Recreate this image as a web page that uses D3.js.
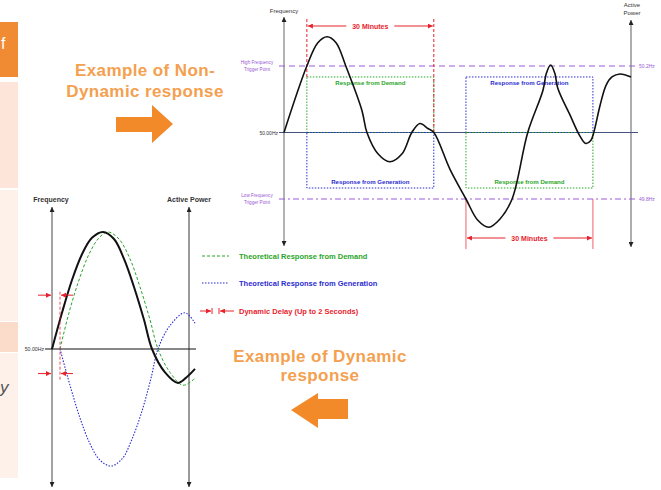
<!DOCTYPE html>
<html>
<head>
<meta charset="utf-8">
<script src="https://cdn.jsdelivr.net/npm/d3@7"></script>
<style>
  body { margin: 0; background: #fff; }
  svg { display: block; font-family: 'Liberation Sans', Arial, sans-serif; }
</style>
</head>
<body>
<div id="vis-container"></div>
<script>
// ---- Non-dynamic response (time in minutes, frequency in Hz) ----
const nonDynTime = [0, 5.4, 8.0, 10.2, 12.3, 14.6, 18.4, 19.6, 22.2, 25.0, 27.9, 30.2, 32.1, 34.0, 35.4,
    39.2, 43.0, 45.8, 48.4, 51.0, 53.9, 57.6, 61.2, 62.0, 63.0, 64.0, 64.7, 67.6, 69.9, 71.3, 72.5, 73.2,
    74.7, 76.1, 77.5, 79.4, 82.0];
const nonDynFreq = [50.0, 50.2, 50.27, 50.288, 50.27, 50.2, 50.067, 50.0, 49.936, 49.912, 49.936, 50.0, 50.027, 50.012, 50.0,
    49.89, 49.8, 49.736, 49.715, 49.739, 49.8, 50.0, 50.127, 50.178, 50.203, 50.178, 50.133, 50.052, 49.99, 49.967, 49.976, 50.0,
    50.082, 50.142, 50.167, 50.176, 50.167];

const nominalHz = 50.0;
const nominalLabel = '50.00Hz';
const triggerHz = [50.2, 49.8];
const triggerRight = ['50.2Hz', '49.8Hz'];
const triggerLeft = [['High Frequency', 'Trigger Point'], ['Low Frequency', 'Trigger Point']];

// 30 minute response windows
const windowStart = [5.4, 43.0];
const windowLength = 30;
const windowBand = 0.167; // Hz either side of nominal
const windowUpper = ['Response from Demand', 'Response from Generation'];
const windowLower = ['Response from Generation', 'Response from Demand'];
const windowLabel = '30 Minutes';

// ---- Dynamic response (time in seconds, normalised deviation) ----
const delaySeconds = 2;
const freqTime = [0, 2.5, 5, 7.5, 10, 12.75, 15.5, 18, 20.5, 23, 25, 28.25, 31.5, 34, 35.75];
const freqValue = [0, 0.31, 0.59, 0.81, 0.95, 1.0, 0.94, 0.77, 0.53, 0.25, 0, -0.2, -0.29, -0.23, -0.17];
const demandTime = [2, 4.25, 6.75, 9.25, 11.75, 14, 16.75, 19.5, 22, 24.5, 26.5, 29.5, 32.75, 35.75];
const demandValue = [0, 0.31, 0.59, 0.81, 0.95, 1.0, 0.94, 0.77, 0.53, 0.25, 0, -0.2, -0.31, -0.25];
const genTime = [2, 4.5, 7, 9.5, 12, 14.75, 17.5, 20, 22.5, 24.75, 26.5, 29.5, 33.25, 35.75];
const genValue = [0, -0.31, -0.59, -0.81, -0.95, -1.0, -0.94, -0.77, -0.53, -0.25, 0, 0.2, 0.31, 0.22];
const delayMarkerLevels = [0.46, -0.21];

const legendLabels = ['Theoretical Response from Demand', 'Theoretical Response from Generation', 'Dynamic Delay (Up to 2 Seconds)'];

const RED = '#e8222c';
const GREEN = '#2aa52a';
const BLUE = '#2b2bd0';
const PURPLE = '#9a5ad6';
const ORANGE_TXT = '#f4a04f';
const ORANGE = '#f28a2a';

const svg = d3.select('#vis-container').append('svg')
  .attr('width', 661)
  .attr('height', 490);

// Arrow markers
const defs = svg.append('defs');
function addMarker(id, color, size) {
    defs.append('marker')
      .attr('id', id)
      .attr('viewBox', '0 0 10 10')
      .attr('refX', 10)
      .attr('refY', 5)
      .attr('markerUnits', 'userSpaceOnUse')
      .attr('markerWidth', size)
      .attr('markerHeight', size)
      .attr('orient', 'auto-start-reverse')
      .append('path')
      .attr('d', 'M0,0L10,5L0,10z')
      .attr('fill', color);
}
addMarker('arr-dark', '#222', 5);
addMarker('arr-red', RED, 5);

// Slide side panels (cropped slide on the left)
const side = svg.append('g');
side.append('rect').attr('x', 0).attr('y', 22).attr('width', 18).attr('height', 55).attr('fill', '#f08a33');
side.append('rect').attr('x', 0).attr('y', 82).attr('width', 18).attr('height', 106).attr('fill', '#fde6d9');
side.append('rect').attr('x', 0).attr('y', 190).attr('width', 18).attr('height', 131).attr('fill', '#fef1ea');
side.append('rect').attr('x', 0).attr('y', 322).attr('width', 18).attr('height', 30).attr('fill', '#fbdcca');
side.append('rect').attr('x', 0).attr('y', 353).attr('width', 18).attr('height', 125).attr('fill', '#fef1ea');
side.append('text').attr('x', 1).attr('y', 49).attr('fill', '#fff').attr('font-size', 16).text('f');
side.append('text').attr('x', 0).attr('y', 393).attr('fill', '#555').attr('font-size', 17).attr('font-style', 'italic').text('y');

// ================= Non-dynamic chart =================
const xNon = d3.scaleLinear().domain([0, 82]).range([284, 631]);
const yNon = d3.scaleLinear().domain([49.8, 50.2]).range([199, 66]);
const nonChart = svg.append('g');

// axes
nonChart.append('line').attr('x1', 284).attr('x2', 284).attr('y1', 17).attr('y2', 246)
  .attr('stroke', '#666').attr('stroke-width', 1)
  .attr('marker-start', 'url(#arr-dark)').attr('marker-end', 'url(#arr-dark)');
nonChart.append('line').attr('x1', 631).attr('x2', 631).attr('y1', 20).attr('y2', 247)
  .attr('stroke', '#777').attr('stroke-width', 1.2)
  .attr('marker-start', 'url(#arr-dark)').attr('marker-end', 'url(#arr-dark)');
nonChart.append('text').attr('x', 284).attr('y', 13).attr('text-anchor', 'middle')
  .attr('font-size', 6).attr('fill', '#333').text('Frequency');
nonChart.append('text').attr('x', 632).attr('y', 7).attr('text-anchor', 'middle')
  .attr('font-size', 6).attr('fill', '#333').text('Active');
nonChart.append('text').attr('x', 632).attr('y', 15).attr('text-anchor', 'middle')
  .attr('font-size', 6).attr('fill', '#333').text('Power');

// nominal line
nonChart.append('line').attr('x1', 279).attr('x2', 638)
  .attr('y1', yNon(nominalHz)).attr('y2', yNon(nominalHz))
  .attr('stroke', '#44507f').attr('stroke-width', 1);
nonChart.append('text').attr('x', 278).attr('y', yNon(nominalHz) + 2).attr('text-anchor', 'end')
  .attr('font-size', 5).attr('fill', '#333').text(nominalLabel);

// trigger points
triggerHz.forEach((hz, i) => {
    nonChart.append('line').attr('x1', 279).attr('x2', 637)
      .attr('y1', yNon(hz)).attr('y2', yNon(hz))
      .attr('stroke', PURPLE).attr('stroke-width', 1)
      .attr('stroke-dasharray', i === 0 ? '6,4' : '6,3,2,3');
    nonChart.append('text').attr('x', 639).attr('y', yNon(hz) + 2)
      .attr('font-size', 5).attr('fill', PURPLE).text(triggerRight[i]);
    triggerLeft[i].forEach((t, j) => {
        nonChart.append('text').attr('x', 257).attr('y', yNon(hz) - 2 + j * 7)
          .attr('text-anchor', 'middle').attr('font-size', 4.6).attr('fill', PURPLE).text(t);
    });
});

// response windows
windowStart.forEach((start, i) => {
    const x0 = xNon(start);
    const x1 = xNon(start + windowLength);
    const yTop = yNon(nominalHz + windowBand);
    const yMid = yNon(nominalHz);
    const yBot = yNon(nominalHz - windowBand);
    const upperColor = i === 0 ? GREEN : BLUE;
    const lowerColor = i === 0 ? BLUE : GREEN;

    nonChart.append('rect').attr('x', x0).attr('y', yTop).attr('width', x1 - x0).attr('height', yMid - yTop)
      .attr('fill', 'none').attr('stroke', upperColor).attr('stroke-width', 1).attr('stroke-dasharray', '1.5,1.5');
    nonChart.append('rect').attr('x', x0).attr('y', yMid).attr('width', x1 - x0).attr('height', yBot - yMid)
      .attr('fill', 'none').attr('stroke', lowerColor).attr('stroke-width', 1).attr('stroke-dasharray', '1.5,1.5');
    nonChart.append('text').attr('x', (x0 + x1) / 2).attr('y', yTop + 8).attr('text-anchor', 'middle')
      .attr('font-size', 6.1).attr('font-weight', 'bold').attr('fill', upperColor).text(windowUpper[i]);
    nonChart.append('text').attr('x', (x0 + x1) / 2).attr('y', yBot - 4).attr('text-anchor', 'middle')
      .attr('font-size', 6.1).attr('font-weight', 'bold').attr('fill', lowerColor).text(windowLower[i]);

    // 30 minute span marker: above for the first window, below for the second
    const cx = (x0 + x1) / 2;
    let ya;
    if (i === 0) {
        ya = 26;
        nonChart.append('line').attr('x1', x0).attr('x2', x0).attr('y1', 19).attr('y2', yTop)
          .attr('stroke', RED).attr('stroke-dasharray', '3,2');
        nonChart.append('line').attr('x1', x1).attr('x2', x1).attr('y1', 19).attr('y2', yMid)
          .attr('stroke', RED).attr('stroke-dasharray', '3,2');
    } else {
        ya = 238;
        [x0, x1].forEach((x) => {
            nonChart.append('line').attr('x1', x).attr('x2', x).attr('y1', yNon(triggerHz[1])).attr('y2', 249)
              .attr('stroke', '#f0606c').attr('stroke-width', 1);
        });
    }
    nonChart.append('line').attr('x1', cx - 24).attr('x2', x0 + 1).attr('y1', ya).attr('y2', ya)
      .attr('stroke', RED).attr('stroke-width', 1.2).attr('marker-end', 'url(#arr-red)');
    nonChart.append('line').attr('x1', cx + 24).attr('x2', x1 - 1).attr('y1', ya).attr('y2', ya)
      .attr('stroke', RED).attr('stroke-width', 1.2).attr('marker-end', 'url(#arr-red)');
    nonChart.append('text').attr('x', cx).attr('y', ya + 2.5).attr('text-anchor', 'middle')
      .attr('font-size', 7).attr('font-weight', 'bold').attr('fill', RED).text(windowLabel);
});

// frequency trace
const nonDynData = nonDynTime.map((t, i) => ({ t, f: nonDynFreq[i] }));
nonChart.append('path')
  .datum(nonDynData)
  .attr('fill', 'none')
  .attr('stroke', '#111')
  .attr('stroke-width', 1.6)
  .attr('d', d3.line().x((d) => xNon(d.t)).y((d) => yNon(d.f)).curve(d3.curveCatmullRom.alpha(0.5)));

// ================= Dynamic chart =================
const xDyn = d3.scaleLinear().domain([0, 34.25]).range([52, 189]);
const yDyn = d3.scaleLinear().domain([-1, 1]).range([466, 232]);
const dyn = svg.append('g');

dyn.append('line').attr('x1', 52).attr('x2', 52).attr('y1', 207).attr('y2', 487)
  .attr('stroke', '#444').attr('stroke-width', 1)
  .attr('marker-start', 'url(#arr-dark)').attr('marker-end', 'url(#arr-dark)');
dyn.append('line').attr('x1', 189).attr('x2', 189).attr('y1', 207).attr('y2', 487)
  .attr('stroke', '#9a9a9a').attr('stroke-width', 2)
  .attr('marker-start', 'url(#arr-dark)').attr('marker-end', 'url(#arr-dark)');
dyn.append('text').attr('x', 51).attr('y', 202).attr('text-anchor', 'middle')
  .attr('font-size', 7).attr('font-weight', 'bold').attr('fill', '#333').text('Frequency');
dyn.append('text').attr('x', 189).attr('y', 202).attr('text-anchor', 'middle')
  .attr('font-size', 7).attr('font-weight', 'bold').attr('fill', '#333').text('Active Power');

dyn.append('line').attr('x1', 45).attr('x2', 196).attr('y1', yDyn(0)).attr('y2', yDyn(0))
  .attr('stroke', '#111').attr('stroke-width', 1);
dyn.append('text').attr('x', 44).attr('y', yDyn(0) + 2).attr('text-anchor', 'end')
  .attr('font-size', 5.2).attr('fill', '#333').text(nominalLabel);

const lineDyn = d3.line().x((d) => xDyn(d.t)).y((d) => yDyn(d.v)).curve(d3.curveCatmullRom.alpha(0.5));
const series = [
    { t: genTime, v: genValue, color: BLUE, width: 1.1, dash: '1.5,1.5' },
    { t: demandTime, v: demandValue, color: GREEN, width: 1, dash: '3,2' },
    { t: freqTime, v: freqValue, color: '#111', width: 2, dash: null },
];
series.forEach((s) => {
    dyn.append('path')
      .datum(s.t.map((t, i) => ({ t, v: s.v[i] })))
      .attr('fill', 'none')
      .attr('stroke', s.color)
      .attr('stroke-width', s.width)
      .attr('stroke-dasharray', s.dash)
      .attr('d', lineDyn);
});

// dynamic delay markers
dyn.append('line').attr('x1', xDyn(delaySeconds)).attr('x2', xDyn(delaySeconds))
  .attr('y1', yDyn(0.49)).attr('y2', yDyn(-0.27))
  .attr('stroke', RED).attr('stroke-width', 0.8).attr('stroke-dasharray', '3,2');
delayMarkerLevels.forEach((lv) => {
    const y = yDyn(lv);
    dyn.append('line').attr('x1', 38).attr('x2', xDyn(0) - 1).attr('y1', y).attr('y2', y)
      .attr('stroke', RED).attr('marker-end', 'url(#arr-red)');
    dyn.append('line').attr('x1', 73).attr('x2', xDyn(delaySeconds) + 1).attr('y1', y).attr('y2', y)
      .attr('stroke', RED).attr('marker-end', 'url(#arr-red)');
});

// legend
const legend = svg.append('g');
const legendY = [256, 283, 311];
legend.append('line').attr('x1', 202).attr('x2', 229).attr('y1', legendY[0]).attr('y2', legendY[0])
  .attr('stroke', GREEN).attr('stroke-dasharray', '3,2');
legend.append('line').attr('x1', 202).attr('x2', 229).attr('y1', legendY[1]).attr('y2', legendY[1])
  .attr('stroke', BLUE).attr('stroke-width', 1.2).attr('stroke-dasharray', '1.5,1.5');
legend.append('line').attr('x1', 200).attr('x2', 211).attr('y1', legendY[2]).attr('y2', legendY[2])
  .attr('stroke', RED).attr('marker-end', 'url(#arr-red)');
legend.append('line').attr('x1', 212).attr('x2', 212).attr('y1', legendY[2] - 3).attr('y2', legendY[2] + 3).attr('stroke', RED);
legend.append('line').attr('x1', 219).attr('x2', 219).attr('y1', legendY[2] - 3).attr('y2', legendY[2] + 3).attr('stroke', RED);
legend.append('line').attr('x1', 234).attr('x2', 220).attr('y1', legendY[2]).attr('y2', legendY[2])
  .attr('stroke', RED).attr('marker-end', 'url(#arr-red)');
const legendColors = [GREEN, BLUE, RED];
legendLabels.forEach((lab, i) => {
    legend.append('text').attr('x', 239).attr('y', legendY[i] + 2.5)
      .attr('font-size', 7.5).attr('font-weight', 'bold').attr('fill', legendColors[i]).text(lab);
});

// ================= Orange call-outs =================
const callout = svg.append('g');
[['Example of Non-', 145, 76], ['Dynamic response', 145, 97], ['Example of Dynamic', 320, 362], ['response', 320, 381]]
  .forEach(([t, x, y]) => {
      callout.append('text').attr('x', x).attr('y', y).attr('text-anchor', 'middle')
        .attr('font-size', 17).attr('font-weight', 'bold').attr('letter-spacing', 0.4)
        .attr('fill', ORANGE_TXT).text(t);
  });
callout.append('path')
  .attr('d', 'M116,117H152V105L173,124L152,143V132H116Z')
  .attr('fill', ORANGE);
callout.append('path')
  .attr('d', 'M348,399H318V393L291,410L318,428V419H348Z')
  .attr('fill', ORANGE);
</script>
</body>
</html>
